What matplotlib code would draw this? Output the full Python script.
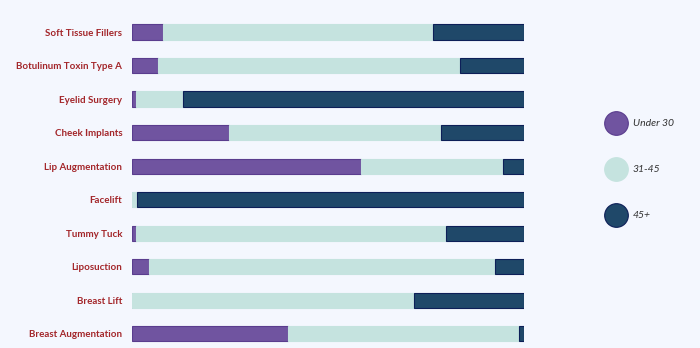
import matplotlib.pyplot as plt
import numpy as np

# data (percent share by age group)
procedures = ["Soft Tissue Fillers", "Botulinum Toxin Type A", "Eyelid Surgery",
              "Cheek Implants", "Lip Augmentation", "Facelift", "Tummy Tuck",
              "Liposuction", "Breast Lift", "Breast Augmentation"]
under_30 = [7.9, 6.6, 1.0, 24.8, 58.4, 0.0, 1.0, 4.4, 0.0, 39.8]
age_31_45 = [68.9, 77.0, 12.0, 53.9, 36.2, 1.3, 79.0, 88.2, 72.0, 59.0]
age_45_plus = [23.2, 16.4, 87.0, 21.3, 5.4, 98.7, 20.0, 7.4, 28.0, 1.2]
groups = ["Under 30", "31-45", "45+"]

bg = "#f4f7fe"
fills = ["#7054a0", "#c5e3df", "#1f4869"]
edges = ["#5a3d8e", "#c5e3df", "#0d1f58"]

plt.rcParams['font.family'] = ['Lato', 'DejaVu Sans']

fig = plt.figure(figsize=(7, 3.48), dpi=100, facecolor=bg)
ax = fig.add_axes([132 / 700, 0, (524 - 132) / 700, 1])
ax.set_facecolor(bg)

y = np.arange(len(procedures))
left = np.zeros(len(procedures))
for vals, fc, ec in zip([under_30, age_31_45, age_45_plus], fills, edges):
    vals = np.array(vals)
    ax.barh(y, vals, left=left, height=0.45, color=fc, edgecolor=ec, linewidth=0.8)
    left += vals

step = 33.52
ax.set_xlim(0, 100)
ax.set_ylim((348 - 32) / step, -32 / step)
ax.set_yticks(y)
ax.set_yticklabels(procedures, fontsize=7, fontweight='bold', color="#a3262a")
ax.tick_params(axis='y', length=0, pad=7)
ax.set_xticks([])
for s in ax.spines.values():
    s.set_visible(False)

# legend drawn as circles with labels
lax = fig.add_axes([0, 0, 1, 1], facecolor='none')
lax.set_xlim(0, 700)
lax.set_ylim(348, 0)
lax.axis('off')
for i, (g, fc, ec) in enumerate(zip(groups, fills, edges)):
    cy = 123 + i * 46
    lax.scatter([616], [cy], s=290, color=fc, edgecolor=ec if i != 1 else fc, linewidth=0.8)
    lax.text(633, cy, g, fontsize=7.5, style='italic', color="#333333", va='center')

fig.savefig("out.png", dpi=100, facecolor=bg)
